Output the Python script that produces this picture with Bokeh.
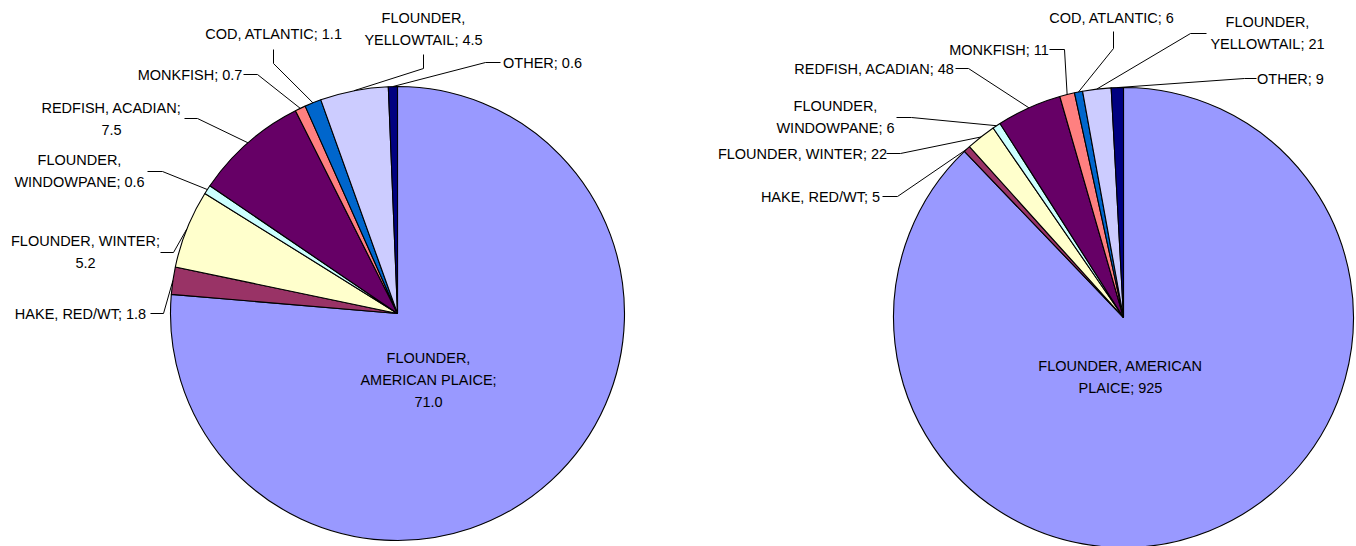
import math
from bokeh.plotting import figure
from bokeh.models import ColumnDataSource, Range1d
from bokeh.embed import file_html
from bokeh.resources import INLINE
from bokeh.core.properties import value

# ---------------- data ----------------
species = ["FLOUNDER, AMERICAN PLAICE", "HAKE, RED/WT", "FLOUNDER, WINTER",
           "FLOUNDER, WINDOWPANE", "REDFISH, ACADIAN", "MONKFISH",
           "COD, ATLANTIC", "FLOUNDER, YELLOWTAIL", "OTHER"]
left_values = [71.0, 1.8, 5.2, 0.6, 7.5, 0.7, 1.1, 4.5, 0.6]
left_value_text = ["71.0", "1.8", "5.2", "0.6", "7.5", "0.7", "1.1", "4.5", "0.6"]
right_values = [925, 5, 22, 6, 48, 11, 6, 21, 9]
right_value_text = ["925", "5", "22", "6", "48", "11", "6", "21", "9"]
colors = ["#9999FF", "#993366", "#FFFFCC", "#CCFFFF", "#660066",
          "#FF8080", "#0066CC", "#CCCCFF", "#000080"]

# ---------------- layout (screen pixels) ----------------
FW, FH = 1356, 546
H = 546
FONT = "Liberation Sans"
FONT_SIZE = "14.5px"
LINE_STEP = 22

left_pie = dict(cx=397, cy=313, r=227)
right_pie = dict(cx=1123, cy=317, r=230)

# which spaces in "NAME; value" become line breaks
left_breaks = [[0, 2], [], [1], [0], [1], [], [], [0], []]
right_breaks = [[1], [], [], [0], [], [], [], [0], []]

left_label_xy = [(428, 379), (80, 313), (85, 251), (79, 170), (111, 118),
                 (189.5, 74), (273.5, 33), (423, 28.5), (542, 62)]
right_label_xy = [(1120, 376), (820, 196), (802, 153), (835, 116.5), (874, 68),
                  (998.5, 49), (1111.5, 17), (1267, 32.5), (1290, 78)]

left_leaders = [None, ((150, 313), (163, 313)), ((160, 252), (173, 252)),
                ((147, 171), (162, 171)), ((184, 118), (197, 118)),
                ((243, 74), (257, 74)), ((273, 49), (273, 63)),
                ((423, 54), (423, 68)), ((500, 62), (485, 62))]
right_leaders = [None, ((882, 196), (897, 196)), ((886, 153), (900, 153)),
                 ((896, 117), (911, 117)), ((955, 68), (968, 68)),
                 ((1049, 49), (1064, 49)), ((1113, 31), (1113, 48)),
                 ((1206, 33), (1190, 33)), ((1256, 78), (1244, 78))]


def Y(sy):
    return H - sy


p = figure(width=FW, height=FH, x_range=Range1d(0, FW), y_range=Range1d(H - FH, H),
           output_backend="svg", toolbar_location=None, min_border=0,
           x_axis_location=None, y_axis_location=None)
p.grid.visible = False
p.outline_line_color = None
p.background_fill_color = "white"
p.border_fill_color = "white"


def wrap(text, breaks):
    parts = text.split(" ")
    lines, cur = [], parts[0]
    for i, part in enumerate(parts[1:]):
        if i in breaks:
            lines.append(cur)
            cur = part
        else:
            cur += " " + part
    lines.append(cur)
    return lines


def draw_pie(pie, values, vtexts, breaks, label_xy, leaders):
    total = float(sum(values))
    cx, cy, r = pie["cx"], Y(pie["cy"]), pie["r"]
    starts, ends, mids = [], [], []
    cum = 0.0
    for v in values:
        c0 = cum / total
        cum += v
        c1 = cum / total
        starts.append(math.pi / 2 - 2 * math.pi * c1)
        ends.append(math.pi / 2 - 2 * math.pi * c0)
        mids.append((c0 + c1) / 2)
    src = ColumnDataSource(dict(x=[cx] * len(values), y=[cy] * len(values),
                                start=starts, end=ends, color=colors))
    p.wedge(x="x", y="y", radius=r, start_angle="start", end_angle="end",
            direction="anticlock", fill_color="color", line_color="black",
            line_width=1.1, source=src)

    # leader lines
    xs, ys = [], []
    for m, ld in zip(mids, leaders):
        if ld is None:
            continue
        th = math.pi / 2 - 2 * math.pi * m
        ex, ey = cx + r * math.cos(th), cy + r * math.sin(th)
        (sx0, sy0), (sx1, sy1) = ld
        xs.append([sx0, sx1, ex])
        ys.append([Y(sy0), Y(sy1), ey])
    p.multi_line(xs=xs, ys=ys, line_color="black", line_width=1)

    # labels
    tx, ty, tt = [], [], []
    for name, vt, br, (lx, ly) in zip(species, vtexts, breaks, label_xy):
        lines = wrap(f"{name}; {vt}", br)
        n = len(lines)
        for i, line in enumerate(lines):
            tx.append(lx)
            ty.append(Y(ly + (i - (n - 1) / 2) * LINE_STEP))
            tt.append(line)
    p.text(x=tx, y=ty, text=tt, text_align="center", text_baseline="middle",
           text_font=value(FONT), text_font_size=FONT_SIZE, text_color="#000000")


draw_pie(left_pie, left_values, left_value_text, left_breaks, left_label_xy, left_leaders)
draw_pie(right_pie, right_values, right_value_text, right_breaks, right_label_xy, right_leaders)

open("out.html", "w").write(file_html(p, INLINE))
